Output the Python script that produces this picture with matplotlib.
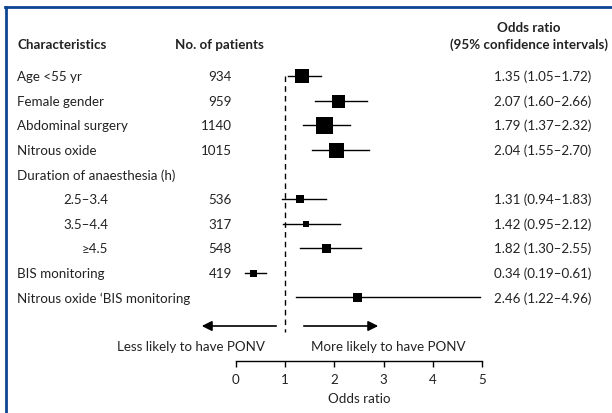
import numpy as np
import matplotlib
matplotlib.use("Agg")
import matplotlib.pyplot as plt
from matplotlib.lines import Line2D

plt.rcParams['font.family'] = ['Lato', 'DejaVu Sans']

# Datos del forest plot
etiquetas = ["Age <55 yr", "Female gender", "Abdominal surgery", "Nitrous oxide",
             "Duration of anaesthesia (h)", "2.5–3.4", "3.5–4.4", "≥4.5",
             "BIS monitoring", "Nitrous oxide ‘BIS monitoring"]
subgrupo = [False, False, False, False, False, True, True, True, False, False]
pacientes = ["934", "959", "1140", "1015", "", "536", "317", "548", "419", ""]
odds = [1.35, 2.07, 1.79, 2.04, np.nan, 1.31, 1.42, 1.82, 0.34, 2.46]
ic_inf = [1.05, 1.60, 1.37, 1.55, np.nan, 0.94, 0.95, 1.30, 0.19, 1.22]
ic_sup = [1.72, 2.66, 2.32, 2.70, np.nan, 1.83, 2.12, 2.55, 0.61, 4.96]
caja_px = [14.7, 13, 17, 15, 0, 8.5, 6.7, 9, 7, 9]  # tamaño de los cuadrados (peso)
ticks = [0, 1, 2, 3, 4, 5]

color_txt = "#222222"
fs = 9.6

W, H = 612, 414
x0_px, px_unidad = 236, 49.2   # x=0 en pixel 236
y0_px, px_fila = 77, 24.6      # fila 0 en pixel 77


def px2x(px):
    return (px - x0_px) / px_unidad


def px2y(py):
    return (py - y0_px) / px_fila


fig = plt.figure(figsize=(W / 100, H / 100), dpi=100)
ax = fig.add_axes([0, 0, 1, 1])
ax.set_xlim(px2x(0), px2x(W))
ax.set_ylim(px2y(H), px2y(0))
ax.axis("off")

# Encabezados
ax.text(px2x(17), px2y(45), "Characteristics", fontsize=fs, fontweight="bold",
        color=color_txt, ha="left", va="center")
ax.text(px2x(219), px2y(45), "No. of patients", fontsize=fs, fontweight="bold",
        color=color_txt, ha="center", va="center")
ax.text(px2x(529), px2y(28), "Odds ratio", fontsize=fs, fontweight="bold",
        color=color_txt, ha="center", va="center")
ax.text(px2x(529), px2y(45), "(95% confidence intervals)", fontsize=fs,
        fontweight="bold", color=color_txt, ha="center", va="center")

# Filas
for i, etq in enumerate(etiquetas):
    if subgrupo[i]:
        ax.text(px2x(108), i, etq, fontsize=fs, color=color_txt, ha="right", va="center")
    else:
        ax.text(px2x(17), i, etq, fontsize=fs, color=color_txt, ha="left", va="center")
    if pacientes[i]:
        ax.text(px2x(232), i, pacientes[i], fontsize=fs, color=color_txt,
                ha="right", va="center")
    if not np.isnan(odds[i]):
        ax.plot([ic_inf[i], ic_sup[i]], [i, i], color="black", lw=1)
        ax.plot(odds[i], i, marker="s", ms=caja_px[i] * 0.72, color="black", mew=0)
        ax.text(px2x(494), i, f"{odds[i]:.2f} ({ic_inf[i]:.2f}–{ic_sup[i]:.2f})",
                fontsize=fs, color=color_txt, ha="left", va="center")

# Linea de referencia en OR = 1
ax.plot([1, 1], [0, px2y(333)], color="black", lw=1, linestyle=(0, (4, 3)))

# Flechas
y_flecha = px2y(327)
ax.annotate("", xy=(px2x(199), y_flecha), xytext=(px2x(279), y_flecha),
            arrowprops=dict(arrowstyle="-|>", color="black", lw=1.2, mutation_scale=15))
ax.annotate("", xy=(px2x(381), y_flecha), xytext=(px2x(301), y_flecha),
            arrowprops=dict(arrowstyle="-|>", color="black", lw=1.2, mutation_scale=15))
ax.text(px2x(191), px2y(347), "Less likely to have PONV", fontsize=fs,
        color=color_txt, ha="center", va="center")
ax.text(px2x(388), px2y(347), "More likely to have PONV", fontsize=fs,
        color=color_txt, ha="center", va="center")

# Eje inferior
ax2 = fig.add_axes([x0_px / W, 1 - 362 / H, 5 * px_unidad / W, 0.0001])
ax2.set_xlim(0, 5)
ax2.set_xticks(ticks)
ax2.set_yticks([])
for s in ["left", "right", "top"]:
    ax2.spines[s].set_visible(False)
ax2.spines["bottom"].set_linewidth(1)
ax2.tick_params(axis="x", direction="out", length=4, width=1, pad=5,
                labelsize=fs, labelcolor=color_txt)
ax2.set_xlabel("Odds ratio", fontsize=fs, color=color_txt, labelpad=5)
ax2.patch.set_visible(False)

# Marco azul (izquierda y arriba)
azul = "#0d4593"
fig.add_artist(Line2D([6 / W, 6 / W], [0, 1 - 8 / H], transform=fig.transFigure,
                      color=azul, lw=2))
fig.add_artist(Line2D([5 / W, 1], [1 - 8 / H, 1 - 8 / H], transform=fig.transFigure,
                      color=azul, lw=2))

fig.savefig("out.png", dpi=100)
